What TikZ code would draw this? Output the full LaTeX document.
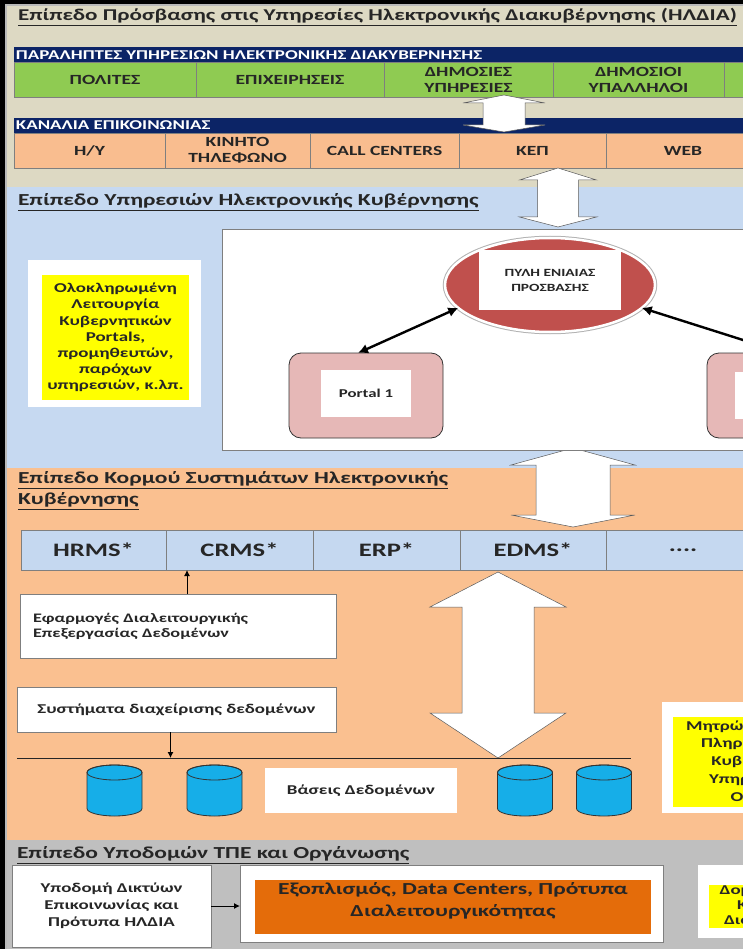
\documentclass[tikz,border=0pt]{standalone}
\usepackage{fontspec}
\setmainfont{Carlito}[FakeStretch=1.4]
\usetikzlibrary{arrows.meta,shapes.geometric}
\definecolor{layerbeige}{HTML}{DDD9C3}
\definecolor{layerblue}{HTML}{C6D9F1}
\definecolor{layerpeach}{HTML}{FAC090}
\definecolor{layergray}{HTML}{BFBFBF}
\definecolor{barnavy}{HTML}{0C2466}
\definecolor{cellgreen}{HTML}{8FCB52}
\definecolor{cellpeach}{HTML}{F9BD8F}
\definecolor{cellblue}{HTML}{C5D8F0}
\definecolor{notegold}{HTML}{FFFF00}
\definecolor{pylired}{HTML}{C0504D}
\definecolor{portalpink}{HTML}{E6B8B7}
\definecolor{dbcyan}{HTML}{16AEE8}
\definecolor{infraorange}{HTML}{E46C0A}
\definecolor{titleink}{HTML}{262626}
\definecolor{cellline}{HTML}{7F7F7F}

\begin{document}
\begin{tikzpicture}[x=1pt, y=-1pt, >={Latex[length=10pt,width=10pt]},
  every node/.style={inner sep=0pt, outer sep=0pt, text=titleink},
  layertitle/.style={anchor=west, align=left, font=\fontsize{16.8}{21}\selectfont\bfseries},
  barlabel/.style={anchor=west, text=white, font=\fontsize{13.5}{14}\selectfont\bfseries},
  rowcell/.style={draw=cellline, line width=0.5pt, anchor=north west, align=center, font=\fontsize{14}{16}\selectfont\bfseries},
  whitebox/.style={draw=cellline, fill=white, line width=0.6pt},
  notebox/.style={fill=notegold, align=center, font=\fontsize{13.5}{16.2}\selectfont\bfseries},
  portal/.style={rounded corners=12pt, fill=portalpink, draw=gray!40!black, line width=0.8pt, minimum width=154pt, minimum height=85pt},
  portalin/.style={fill=white, minimum width=90pt, minimum height=47pt, font=\fontsize{12}{14}\selectfont\bfseries},
  blockarrow/.style={fill=white, draw=gray!70!black, line width=0.5pt},
  link/.style={<->, line width=2.4pt, black},
  feed/.style={->, line width=1pt, black, >={Latex[length=6pt,width=6pt]}},
]
\useasboundingbox (0,0) rectangle (743,949);
\clip (0,0) rectangle (743,949);

% Frame and layers
\fill[black] (0,0) rectangle (743,949);
\fill[gray!55] (5,4) rectangle (743,949);
\fill[layerbeige] (7,6) rectangle (743,187);
\fill[layerblue] (7,187) rectangle (743,468);
\fill[layerpeach] (7,468) rectangle (743,840);
\fill[layergray] (7,840) rectangle (743,949);

% Access layer
\node[layertitle, font=\fontsize{16.5}{21}\selectfont\bfseries] (titleaccess) at (18,17) {\underline{Επίπεδο Πρόσβασης στις Υπηρεσίες Ηλεκτρονικής Διακυβέρνησης (ΗΛΔΙΑ)}};
\fill[barnavy] (14,47) rectangle (760,62);
\node[barlabel] (recipients) at (16,55) {ΠΑΡΑΛΗΠΤΕΣ ΥΠΗΡΕΣΙΩΝ ΗΛΕΚΤΡΟΝΙΚΗΣ ΔΙΑΚΥΒΕΡΝΗΣΗΣ};
\foreach \xa/\xb/\txt [count=\n] in {14/196/ΠΟΛΙΤΕΣ, 196/384/ΕΠΙΧΕΙΡΗΣΕΙΣ, 384/553/{ΔΗΜΟΣΙΕΣ\\ΥΠΗΡΕΣΙΕΣ}, 553/724/{ΔΗΜΟΣΙΟΙ\\ΥΠΑΛΛΗΛΟΙ}, 724/900/{}}
  \node[rowcell, fill=cellgreen, minimum width={(\xb-\xa)*1pt}, minimum height=35pt] (rec\n) at (\xa,62) {\txt};
\fill[barnavy] (14,118) rectangle (760,133);
\node[barlabel] (channels) at (16,125.5) {ΚΑΝΑΛΙΑ ΕΠΙΚΟΙΝΩΝΙΑΣ};
\foreach \xa/\xb/\txt [count=\n] in {14/165/{Η/Υ}, 165/310/{ΚΙΝΗΤΟ\\ΤΗΛΕΦΩΝΟ}, 310/459/CALL CENTERS, 459/606/ΚΕΠ, 606/760/WEB}
  \node[rowcell, fill=cellpeach, minimum width={(\xb-\xa)*1pt}, minimum height=35pt] (chan\n) at (\xa,133) {\txt};

% Block arrows between the levels
\foreach \cx/\ya/\yb/\yc/\yd/\sh/\hd in {504/95/103/125/132/21/41, 558/168/180/217/227/20.5/38.5, 573/448/465/515/527/37/62, 498/572/607/713/758/36/68}
  \draw[blockarrow] (\cx,\ya) -- (\cx+\hd,\yb) -- (\cx+\sh,\yb) -- (\cx+\sh,\yc) -- (\cx+\hd,\yc) -- (\cx,\yd)
    -- (\cx-\hd,\yc) -- (\cx-\sh,\yc) -- (\cx-\sh,\yb) -- (\cx-\hd,\yb) -- cycle;

% Services layer
\node[layertitle] (titleservices) at (18,202) {\underline{Επίπεδο Υπηρεσιών Ηλεκτρονικής Κυβέρνησης}};
\draw[whitebox] (222,229) rectangle (760,450);
\node[fill=white, minimum width=173pt, minimum height=147pt] (integratedframe) at (114.5,333.5) {};
\node[notebox, minimum width=147pt, minimum height=125pt] (integrated) at (115.5,337.5) {Ολοκληρωμένη\\Λειτουργία\\Κυβερνητικών\\Portals,\\προμηθευτών,\\παρόχων\\υπηρεσιών, κ.λπ.};
\node[ellipse, fill=pylired, draw=white, line width=2.5pt, preaction={draw=gray!60, line width=4.5pt}, minimum width=210pt, minimum height=94pt] (pyli) at (550,285) {};
\node[fill=white, minimum width=142pt, minimum height=60pt, align=center, font=\fontsize{11}{15}\selectfont\bfseries] (pylitext) at (550,280) {ΠΥΛΗ ΕΝΙΑΙΑΣ\\ΠΡΟΣΒΑΣΗΣ};
\node[portal] (portal1) at (366,395.5) {};
\node[portalin] (portal1in) at (366,393.5) {Portal 1};
\node[portal] (portal2) at (784,395.5) {};
\node[portalin] (portal2in) at (780,395) {};
\draw[link] ([xshift=-8pt]portal1.north) -- (pyli.194);
\draw[link, ->] (portal2.north) -- (pyli.346);

% Core systems layer
\node[layertitle, anchor=north west] (titlecore) at (18,472) {\underline{Επίπεδο Κορμού Συστημάτων Ηλεκτρονικής}\\\underline{Κυβέρνησης}};
\foreach \xa/\xb/\txt [count=\n] in {21/166/HRMS*, 166/313/CRMS*, 313/460/ERP*, 460/606/EDMS*, 606/760/{{.}{.}{.}{.}}}
  \node[rowcell, fill=cellblue, minimum width={(\xb-\xa)*1pt}, minimum height=40pt, font=\fontsize{19}{21}\selectfont\bfseries] (sys\n) at (\xa,530) {\txt};
\node[whitebox, minimum width=316pt, minimum height=64pt, text width=290pt, align=left, font=\fontsize{13}{15}\selectfont\bfseries] (interop) at (178,626) {Εφαρμογές Διαλειτουργικής\\Επεξεργασίας Δεδομένων};
\draw[feed] ([xshift=9pt]interop.north) -- ([xshift=9pt]interop.north |- sys2.south);
\node[whitebox, minimum width=319pt, minimum height=45pt, font=\fontsize{13.5}{15}\selectfont\bfseries] (datamgmt) at (176.5,709.5) {Συστήματα διαχείρισης δεδομένων};
\coordinate (busL) at (17,758);
\coordinate (busR) at (631,758);
\draw[line width=0.8pt, gray!30!black] (busL) -- (busR);
\draw[feed] ([xshift=-6pt]datamgmt.south) -- ([xshift=-6pt]datamgmt.south |- busL);
% Databases
\foreach \cx in {114.5, 214.5, 525, 604} {
  \filldraw[fill=dbcyan, draw=black!80, line width=0.8pt] (\cx-27.5,772.5) -- (\cx-27.5,808.5)
    arc[start angle=180, end angle=360, x radius=27.5pt, y radius=7.5pt] -- (\cx+27.5,772.5)
    arc[start angle=0, end angle=180, x radius=27.5pt, y radius=7.5pt] -- cycle;
  \draw[black!80, line width=0.8pt] (\cx,772.5) ellipse[x radius=27.5pt, y radius=7.5pt];
}
\node[fill=white, minimum width=192pt, minimum height=45pt, font=\fontsize{13.5}{15}\selectfont\bfseries] (databases) at (361,790.5) {Βάσεις Δεδομένων};
\node[fill=white, minimum width=211pt, minimum height=111pt] (registriesframe) at (767.5,757.5) {};
\node[notebox, minimum width=189pt, minimum height=90pt, font=\fontsize{13.5}{17.8}\selectfont\bfseries] (registries) at (767.5,762) {Μητρώα Δεδομένων\\Πληροφοριακών\\Κυβερνητικών\\Υπηρεσιών και\\Οργάνων};

% Infrastructure layer
\node[layertitle] (titleinfra) at (17,855) {\underline{Επίπεδο Υποδομών ΤΠΕ και Οργάνωσης}};
\node[whitebox, minimum width=199pt, minimum height=82pt, align=center, font=\fontsize{13.5}{17}\selectfont\bfseries] (network) at (111.5,906) {Υποδομή Δικτύων\\Επικοινωνίας και\\Πρότυπα ΗΛΔΙΑ};
\node[whitebox, minimum width=423pt, minimum height=77pt] (equipframe) at (451.5,903.5) {};
\node[fill=infraorange, minimum width=396pt, minimum height=54pt] (equipfill) at (453,907) {};
\node[align=center, font=\fontsize{16.8}{22}\selectfont\bfseries] (equipment) at (453,901) {Εξοπλισμός, Data Centers, Πρότυπα\\Διαλειτουργικότητας};
\draw[feed] (network.east) -- (network.east -| equipframe.west);
\node[fill=white, minimum width=175pt, minimum height=73pt] (governanceframe) at (785.5,901.5) {};
\node[notebox, minimum width=153pt, minimum height=43pt, font=\fontsize{13.5}{15}\selectfont\bfseries] (governance) at (785.5,906) {Δομές Διοίκησης\\Κυβέρνησης\\Διακυβέρνησης};

\end{tikzpicture}
\end{document}
